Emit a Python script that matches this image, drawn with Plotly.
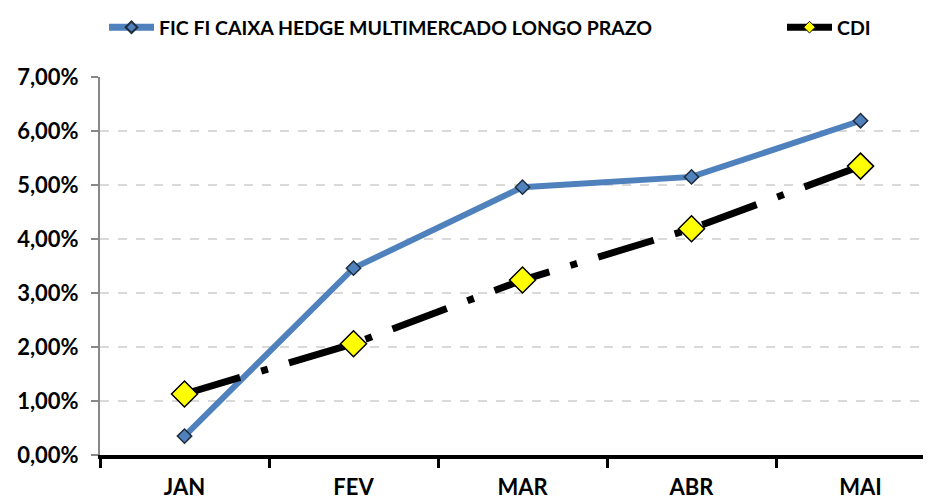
import plotly.graph_objects as go

months = ["JAN", "FEV", "MAR", "ABR", "MAI"]
fic = [0.35, 3.46, 4.96, 5.15, 6.19]
cdi = [1.13, 2.06, 3.24, 4.19, 5.35]
y_ticks = [0, 1, 2, 3, 4, 5, 6, 7]
y_labels = ["0,00%", "1,00%", "2,00%", "3,00%", "4,00%", "5,00%", "6,00%", "7,00%"]
fic_name = "FIC FI CAIXA HEDGE MULTIMERCADO LONGO PRAZO"
cdi_name = "CDI"

FONT = "Lato"
W, H = 923, 492  # page body has an 8px margin

fic_line = dict(color="#4f81bd", width=6)
cdi_line = dict(color="black", width=7, dash="58px,22px,7px,22px")

fig = go.Figure()
fig.add_trace(go.Scatter(
    x=months, y=fic, name=fic_name, mode="lines+markers", line=fic_line,
    marker=dict(symbol="diamond", size=11, color="#4f81bd", line=dict(color="#1f2d3d", width=1.5)),
    showlegend=False,
))
fig.add_trace(go.Scatter(
    x=months, y=cdi, name=cdi_name, mode="lines+markers", line=cdi_line,
    marker=dict(symbol="diamond", size=20, color="#ffff00", line=dict(color="black", width=1.5)),
    showlegend=False,
))
# legend entries (smaller markers, solid lines as in the reference legend)
fig.add_trace(go.Scatter(
    x=[None], y=[None], name=fic_name, mode="lines+markers",
    line=dict(color="#4f81bd", width=7),
    marker=dict(symbol="diamond", size=9, color="#4f81bd", line=dict(color="#1f2d3d", width=2)),
    legend="legend",
))
fig.add_trace(go.Scatter(
    x=[None], y=[None], name=cdi_name, mode="lines+markers",
    line=dict(color="black", width=7),
    marker=dict(symbol="diamond", size=9, color="#ffff00", line=dict(color="black", width=1)),
    legend="legend2",
))

legend_font = dict(family=FONT, size=19.5, color="black", weight="bold")

fig.update_layout(
    width=W, height=H,
    margin=dict(l=92, r=0, t=69, b=45, autoexpand=False),
    plot_bgcolor="white", paper_bgcolor="white",
    font=dict(family=FONT, size=16, color="black"),
    showlegend=True,
    legend=dict(
        orientation="h", x=96 / W, xref="container", xanchor="left",
        y=1.0, yref="container", yanchor="top",
        font=legend_font, itemwidth=45, bgcolor="rgba(0,0,0,0)",
    ),
    legend2=dict(
        orientation="h", x=774 / W, xref="container", xanchor="left",
        y=1.0, yref="container", yanchor="top",
        font=legend_font, itemwidth=45, bgcolor="rgba(0,0,0,0)",
    ),
    xaxis=dict(
        type="category", range=[-0.5, 4.417], automargin=False,
        showline=True, linecolor="black", linewidth=4,
        ticks="outside", tickson="boundaries", ticklen=9, tickcolor="black", tickwidth=3,
        showgrid=False, ticklabelstandoff=10,
        tickfont=dict(family=FONT, size=22, color="black", weight="bold"),
    ),
    yaxis=dict(
        range=[0, 7], tickvals=y_ticks, ticktext=y_labels, automargin=False,
        showline=True, linecolor="#888888", linewidth=2,
        ticks="outside", ticklen=7, tickcolor="#888888", tickwidth=2,
        showgrid=True, gridcolor="#d9d9d9", gridwidth=2, griddash="dash",
        zeroline=False, ticklabelstandoff=8,
        tickfont=dict(family=FONT, size=22, color="black", weight="bold"),
    ),
)

fig.write_html("out.html")
